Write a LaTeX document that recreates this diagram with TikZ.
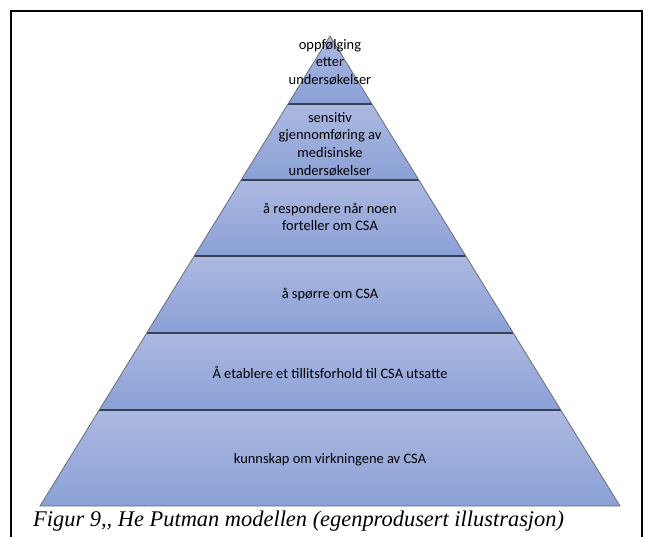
\documentclass[tikz,border=0pt]{standalone}
\usepackage{fontspec}
\setmainfont{Carlito}
\newfontfamily\captionfont{Liberation Serif}
\usetikzlibrary{calc}
\definecolor{tiertop}{RGB}{172,185,225}
\definecolor{tierbot}{RGB}{138,160,214}
\definecolor{tierline}{RGB}{55,65,85}
\definecolor{sideline}{RGB}{105,110,120}
\begin{document}
\begin{tikzpicture}[x=1bp,y=-1bp,
  tier/.style={top color=tiertop,bottom color=tierbot},
  divider/.style={draw=tierline,line width=1.3bp},
  outline/.style={draw=sideline,line width=0.8bp,line join=miter},
  tiertext/.style={align=center,font=\fontsize{14.5}{17.8}\selectfont,inner sep=0pt,text=black},
  captiontext/.style={anchor=west,inner sep=0pt,font=\captionfont\itshape\fontsize{22.5}{26}\selectfont}]
\useasboundingbox (0,0) rectangle (650,537);
\fill[white] (0,0) rectangle (650,537);
% frame, open at the bottom
\draw[line width=2bp] (11,537) -- (11,11) -- (642,11) -- (642,537);
% pyramid corners: apex at y=36, base at y=506
\coordinate (apex) at (330,36);
\coordinate (bl) at (40,506);
\coordinate (br) at (620,506);
% tiers between the given heights
\foreach \ya/\yb in {36/104,104/180,180/256,256/333,333/410,410/506} {
  \shade[tier] ($(apex)!{(\ya-36)/470}!(bl)$) -- ($(apex)!{(\ya-36)/470}!(br)$)
    -- ($(apex)!{(\yb-36)/470}!(br)$) -- ($(apex)!{(\yb-36)/470}!(bl)$) -- cycle;
}
\foreach \y in {104,180,256,333,410}
  \path[divider] ($(apex)!{(\y-36)/470}!(bl)$) -- ($(apex)!{(\y-36)/470}!(br)$);
\path[outline] (bl) -- (apex) -- (br) -- cycle;
% tier labels
\node[tiertext] (t1) at (330,62) {oppfølging\\etter\\undersøkelser};
\node[tiertext] (t2) at (330,144) {sensitiv\\gjennomføring av\\medisinske\\undersøkelser};
\node[tiertext] (t3) at (330,217) {å respondere når noen\\forteller om CSA};
\node[tiertext] (t4) at (330,295) {å spørre om CSA};
\node[tiertext] (t5) at (330,372) {Å etablere et tillitsforhold til CSA utsatte};
\node[tiertext] (t6) at (330,460) {kunnskap om virkningene av CSA};
% caption
\node[captiontext] (cap) at (33,521) {Figur 9,, He Putman modellen (egenprodusert illustrasjon)};
\end{tikzpicture}
\end{document}
